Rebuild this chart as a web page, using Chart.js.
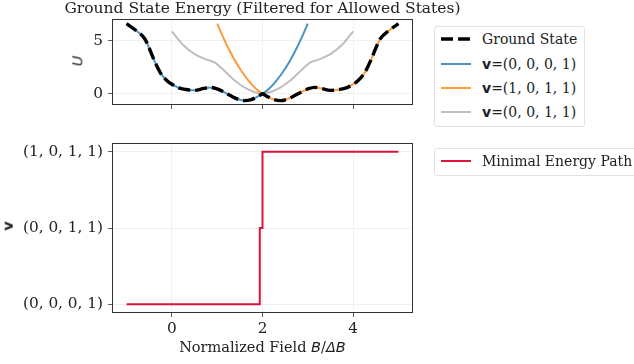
<!DOCTYPE html>
<html>
<head>
<meta charset="utf-8">
<script src="https://cdn.jsdelivr.net/npm/chart.js@4.4.1/dist/chart.umd.min.js"></script>
<style>
  body { margin: 0; background: #fff; }
  #wrap { position: relative; width: 634px; height: 364px; overflow: hidden; font-family: "DejaVu Serif", serif; color: #222; }
  canvas { position: absolute; left: 0; }
  .txt { position: absolute; white-space: nowrap; }
  .legend { position: absolute; background: #fff; border: 1px solid #e2e2e2; border-radius: 3px; box-sizing: border-box; font-size: 14px; }
  .legend .row { display: flex; align-items: center; height: 24.4px; }
  .legend svg { margin-left: 6px; margin-right: 11px; }
  .bv { font-family: "DejaVu Sans", sans-serif; font-weight: bold; }
  .mi { font-family: "DejaVu Sans", sans-serif; font-style: italic; }
</style>
</head>
<body>
<div id="wrap">
  <canvas id="topChart" width="634" height="125" style="top:0"></canvas>
  <canvas id="pathChart" width="634" height="234" style="top:130px"></canvas>
  <div class="txt" style="left:0;width:525px;top:0;text-align:center;font-size:15.5px;line-height:17px;">Ground State Energy (Filtered for Allowed States)</div>
  <div class="txt mi" style="left:72px;top:53px;font-size:14.5px;transform:rotate(-90deg);">U</div>
  <div class="txt bv" style="left:3px;top:218px;font-size:14.5px;transform:rotate(-90deg);">v</div>
  <div class="txt" style="left:0;width:525px;top:339px;text-align:center;font-size:14.5px;line-height:17px;">Normalized Field <span class="mi">B</span>/<span class="mi">ΔB</span></div>
  <div id="legendTop" class="legend" style="left:434px;top:26px;width:151px;height:101px;"></div>
  <div id="legendPath" class="legend" style="left:434px;top:148px;width:240px;height:28px;"></div>
</div>
<script>
// ---- data ----
const stateLabels = ['(0, 0, 0, 1)', '(0, 0, 1, 1)', '(1, 0, 1, 1)'];
const xTicks = [0, 2, 4];
const uTicks = [0, 5];

// ground state (minimum over allowed states)
const groundX = [-1, -0.8, -0.6, -0.5, -0.4, -0.25, -0.1, 0, 0.15, 0.3, 0.5, 0.7, 0.85, 1.0, 1.15, 1.3, 1.45, 1.6, 1.75, 1.9, 1.96, 2.0,
                 2.04, 2.1, 2.25, 2.4, 2.55, 2.7, 2.85, 3.0, 3.15, 3.3, 3.5, 3.7, 3.85, 4.0, 4.1, 4.25, 4.4, 4.5, 4.6, 4.8, 5.0];
const groundU = [6.62, 6.0, 5.2, 4.3, 3.25, 1.95, 1.2, 0.9, 0.55, 0.4, 0.32, 0.5, 0.6, 0.45, 0.15, -0.2, -0.5, -0.65, -0.55, -0.25, -0.1, 0,
                 -0.1, -0.25, -0.55, -0.65, -0.5, -0.2, 0.15, 0.45, 0.6, 0.5, 0.32, 0.4, 0.55, 0.9, 1.2, 1.95, 3.25, 4.3, 5.2, 6.0, 6.62];

// v=(0,0,0,1)
const blueX = [-1, -0.8, -0.6, -0.5, -0.4, -0.25, -0.1, 0, 0.15, 0.3, 0.5, 0.7, 0.85, 1.0, 1.15, 1.3, 1.45, 1.6, 1.75, 1.9, 2.0,
               2.15, 2.3, 2.45, 2.6, 2.75, 2.9, 3.0];
const blueU = [6.62, 6.0, 5.2, 4.3, 3.25, 1.95, 1.2, 0.9, 0.55, 0.4, 0.32, 0.5, 0.6, 0.45, 0.15, -0.2, -0.5, -0.65, -0.55, -0.25, 0,
               0.5, 1.2, 2.05, 3.07, 4.27, 5.64, 6.62];

// v=(1,0,1,1)
const orangeX = [1.0, 1.1, 1.25, 1.4, 1.55, 1.7, 1.85, 2.0,
                 2.1, 2.25, 2.4, 2.55, 2.7, 2.85, 3.0, 3.15, 3.3, 3.5, 3.7, 3.85, 4.0, 4.1, 4.25, 4.4, 4.5, 4.6, 4.8, 5.0];
const orangeU = [6.62, 5.64, 4.27, 3.07, 2.05, 1.2, 0.5, 0,
                 -0.25, -0.55, -0.65, -0.5, -0.2, 0.15, 0.45, 0.6, 0.5, 0.32, 0.4, 0.55, 0.9, 1.2, 1.95, 3.25, 4.3, 5.2, 6.0, 6.62];

// v=(0,0,1,1)
const grayX = [0, 0.25, 0.5, 0.75, 0.95, 1.15, 1.4, 1.6, 1.75, 1.9, 2.0, 2.1, 2.25, 2.4, 2.6, 2.85, 3.05, 3.25, 3.5, 3.75, 4.0];
const grayU = [5.9, 4.6, 3.75, 3.25, 2.95, 2.2, 1.2, 0.6, 0.28, 0.07, 0, 0.07, 0.28, 0.6, 1.2, 2.2, 2.95, 3.25, 3.75, 4.6, 5.9];

// minimal energy path (index into stateLabels)
const pathX = [-1, 1.94, 2.0, 2.06, 5];
const pathState = [0, 0, 1, 2, 2];

// ---- helpers ----
const pts = (xs, ys) => xs.map((x, i) => ({ x: x, y: ys[i] }));
const serif = { family: 'DejaVu Serif', size: 15.3 };

const framePlugin = {
  id: 'frame',
  afterDatasetsDraw(chart) {
    const { ctx, chartArea: a } = chart;
    ctx.save();
    ctx.strokeStyle = '#333';
    ctx.lineWidth = 1;
    ctx.strokeRect(Math.round(a.left) - 0.5, Math.round(a.top) - 0.5, Math.round(a.right - a.left) + 1, Math.round(a.bottom - a.top) + 1);
    ctx.restore();
  }
};

function xScale(showLabels, height) {
  return {
    type: 'linear', min: -1.3, max: 5.3,
    afterBuildTicks: s => { s.ticks = xTicks.map(v => ({ value: v })); },
    afterFit: s => { s.height = height; },
    grid: { color: '#ececec', lineWidth: 0.8, tickLength: 5, tickColor: '#333' },
    border: { display: false },
    ticks: { display: showLabels, color: '#222', font: serif, padding: 3, maxRotation: 0 }
  };
}

function yScale(min, max, tickVals, fmt) {
  return {
    type: 'linear', min: min, max: max,
    afterBuildTicks: s => { s.ticks = tickVals.map(v => ({ value: v })); },
    afterFit: s => { s.width = 113; },
    grid: { color: '#ececec', lineWidth: 0.8, tickLength: 5, tickColor: '#333' },
    border: { display: false },
    ticks: { color: '#222', font: serif, padding: 5, callback: fmt }
  };
}

const baseOpts = {
  responsive: false, animation: false, devicePixelRatio: 1,
  plugins: { legend: { display: false }, tooltip: { enabled: false } },
  elements: { point: { radius: 0 } }
};

// ---- top: energies ----
const topSeries = [
  { label: 'Ground State', data: pts(groundX, groundU), borderColor: '#000', borderWidth: 3.4, borderDash: [12, 5], cubicInterpolationMode: 'monotone' },
  { label: stateLabels[0], data: pts(blueX, blueU), borderColor: 'rgba(31,119,180,0.8)', borderWidth: 2, cubicInterpolationMode: 'monotone' },
  { label: stateLabels[2], data: pts(orangeX, orangeU), borderColor: 'rgba(255,127,14,0.8)', borderWidth: 2, cubicInterpolationMode: 'monotone' },
  { label: stateLabels[1], data: pts(grayX, grayU), borderColor: 'rgba(128,128,128,0.5)', borderWidth: 2, cubicInterpolationMode: 'monotone' }
];

new Chart(document.getElementById('topChart'), {
  type: 'line',
  data: { datasets: topSeries },
  options: Object.assign({}, baseOpts, {
    layout: { padding: { left: 0, right: 222, top: 20, bottom: 0 } },
    scales: { x: xScale(false, 21), y: yScale(-0.97, 6.97, uTicks, v => String(v)) }
  }),
  plugins: [framePlugin]
});

// ---- bottom: minimal energy path ----
const pathSeries = [
  { label: 'Minimal Energy Path', data: pts(pathX, pathState), borderColor: 'crimson', borderWidth: 2, stepped: 'after' }
];

new Chart(document.getElementById('pathChart'), {
  type: 'line',
  data: { datasets: pathSeries },
  options: Object.assign({}, baseOpts, {
    layout: { padding: { left: 0, right: 222, top: 13, bottom: 0 } },
    scales: { x: xScale(true, 52), y: yScale(-0.1, 2.1, [0, 1, 2], v => stateLabels[v]) }
  }),
  plugins: [framePlugin]
});

// ---- html legends built from the dataset list ----
function sample(ds) {
  const dash = ds.borderDash ? ` stroke-dasharray="${ds.borderDash.join(' ')}"` : '';
  return `<svg width="30" height="6"><line x1="0" y1="3" x2="30" y2="3" stroke="${ds.borderColor}" stroke-width="${ds.borderWidth}"${dash}/></svg>`;
}
function labelHtml(ds) {
  return stateLabels.includes(ds.label) ? `<span class="bv">v</span>=${ds.label}` : ds.label;
}
function buildLegend(el, series) {
  el.innerHTML = series.map(ds => `<div class="row">${sample(ds)}<span>${labelHtml(ds)}</span></div>`).join('');
}
buildLegend(document.getElementById('legendTop'), topSeries);
buildLegend(document.getElementById('legendPath'), pathSeries);
</script>
</body>
</html>
